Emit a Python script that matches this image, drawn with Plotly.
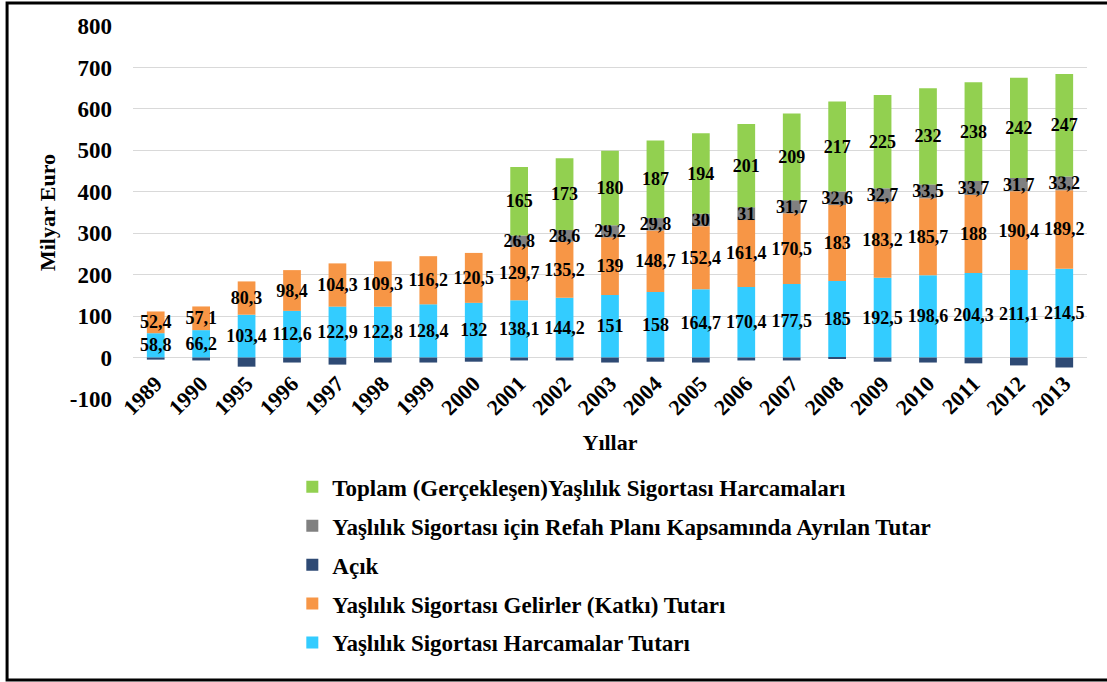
import plotly.graph_objects as go

years = ['1989', '1990', '1995', '1996', '1997', '1998', '1999', '2000', '2001', '2002', '2003',
         '2004', '2005', '2006', '2007', '2008', '2009', '2010', '2011', '2012', '2013']

harcamalar = [58.8, 66.2, 103.4, 112.6, 122.9, 122.8, 128.4, 132, 138.1, 144.2, 151,
              158, 164.7, 170.4, 177.5, 185, 192.5, 198.6, 204.3, 211.1, 214.5]
gelirler = [52.4, 57.1, 80.3, 98.4, 104.3, 109.3, 116.2, 120.5, 129.7, 135.2, 139,
            148.7, 152.4, 161.4, 170.5, 183, 183.2, 185.7, 188, 190.4, 189.2]
acik = [-5, -7, -22, -12, -17, -12, -12, -10, -7, -7, -12,
        -10, -12, -7, -7, -2, -10, -12, -14, -19, -24]
refah = [None, None, None, None, None, None, None, None, 26.8, 28.6, 29.2,
         29.8, 30, 31, 31.7, 32.6, 32.7, 33.5, 33.7, 31.7, 33.2]
toplam = [None, None, None, None, None, None, None, None, 165, 173, 180,
          187, 194, 201, 209, 217, 225, 232, 238, 242, 247]

y_tickvals = [-100, 0, 100, 200, 300, 400, 500, 600, 700, 800]
y_ticktext = ['-100', '0', '100', '200', '300', '400', '500', '600', '700', '800']

names = {
    'harcamalar': 'Yaşlılık Sigortası Harcamalar Tutarı',
    'gelirler': 'Yaşlılık Sigortası Gelirler (Katkı) Tutarı',
    'acik': 'Açık',
    'refah': 'Yaşlılık Sigortası için Refah Planı Kapsamında Ayrılan Tutar',
    'toplam': 'Toplam (Gerçekleşen)Yaşlılık Sigortası Harcamaları',
}
colors = {
    'harcamalar': '#33CCFF',
    'gelirler': '#F79646',
    'acik': '#2E4A74',
    'refah': '#808080',
    'toplam': '#92D050',
}
ranks = {'toplam': 1, 'refah': 2, 'acik': 3, 'gelirler': 4, 'harcamalar': 5}

FONT = 'Liberation Serif, Times New Roman, serif'


def fmt(vals):
    return [('' if v is None else ('%g' % v).replace('.', ',')) for v in vals]


def bfont(size):
    return dict(family=FONT, size=size, color='black', weight='bold')


fig = go.Figure()
series = [('harcamalar', harcamalar, True), ('gelirler', gelirler, True), ('acik', acik, False),
          ('refah', refah, True), ('toplam', toplam, True)]
for key, vals, labelled in series:
    fig.add_trace(go.Bar(
        x=years, y=vals, name=names[key], legendgroup=key, legendrank=ranks[key],
        marker=dict(color=colors[key], line=dict(width=0)),
        text=fmt(vals) if labelled else None,
        textposition='inside' if labelled else 'none',
        insidetextanchor='middle',
        constraintext='none',
        textangle=0,
        textfont=bfont(18),
        cliponaxis=False,
    ))

fig.update_layout(
    width=1107, height=682, autosize=False,
    margin=dict(l=133, r=20, t=26, b=283, autoexpand=False),
    barmode='relative', bargap=0.61,
    plot_bgcolor='white', paper_bgcolor='white',
    font=bfont(22),
    showlegend=True,
    legend=dict(
        orientation='v', x=0.167, y=-0.178, xanchor='left', yanchor='top',
        traceorder='grouped', tracegroupgap=6,
        font=bfont(23),
        bgcolor='rgba(0,0,0,0)',
    ),
    xaxis=dict(
        type='category', showgrid=False, showline=False, zeroline=False,
        tickangle=-45, ticks='', anchor='free', position=100 / 900,
        ticklabelstandoff=8, automargin=False,
        tickfont=bfont(22),
        title=dict(text='Yıllar', font=bfont(22)),
    ),
    yaxis=dict(
        range=[-100, 800], tickvals=y_tickvals, ticktext=y_ticktext,
        showgrid=True, gridcolor='#D9D9D9', gridwidth=1,
        zeroline=False, showline=False, ticks='', ticklabelstandoff=20,
        automargin=False,
        tickfont=bfont(23),
        title=dict(text='Milyar Euro', standoff=8, font=bfont(22)),
    ),
    shapes=[dict(type='rect', xref='paper', yref='paper',
                 x0=-0.132, x1=1.03, y0=-0.7534, y1=1.0617,
                 line=dict(color='black', width=3), fillcolor='rgba(0,0,0,0)', layer='below')],
)

fig.write_html('out.html', config={'displayModeBar': False},
               post_script="document.body.style.margin='0';document.body.style.overflow='hidden';")
